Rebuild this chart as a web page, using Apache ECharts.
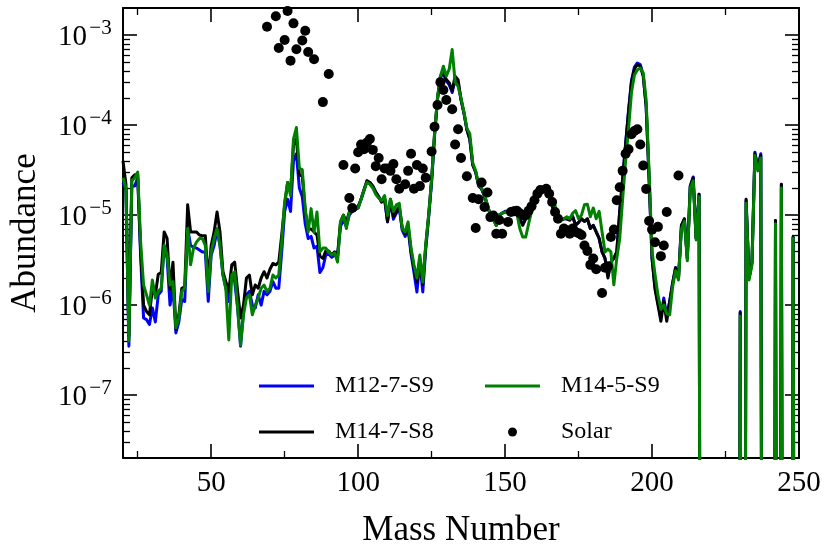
<!DOCTYPE html>
<html>
<head>
<meta charset="utf-8">
<script src="https://cdn.jsdelivr.net/npm/echarts@6/dist/echarts.min.js"></script>
<style>
html,body{margin:0;padding:0;background:#fff;}
#chart{width:831px;height:553px;}
</style>
</head>
<body>
<div id="chart"></div>
<script>
// value used where the abundance drops below the plotted range (clipped off the bottom)
const Z = 1e-20;

const massNumbers = [
  20,21,22,23,24,25,26,27,28,29, 30,31,32,33,34,35,36,37,38,39,
  40,41,42,43,44,45,46,47,48,49, 50,51,52,53,54,55,56,57,58,59,
  60,61,62,63,64,65,66,67,68,69, 70,71,72,73,74,75,76,77,78,79,
  80,81,82,83,84,85,86,87,88,89, 90,91,92,93,94,95,96,97,98,99,
  100,101,102,103,104,105,106,107,108,109, 110,111,112,113,114,115,116,117,118,119,
  120,121,122,123,124,125,126,127,128,129, 130,131,132,133,134,135,136,137,138,139,
  140,141,142,143,144,145,146,147,148,149, 150,151,152,153,154,155,156,157,158,159,
  160,161,162,163,164,165,166,167,168,169, 170,171,172,173,174,175,176,177,178,179,
  180,181,182,183,184,185,186,187,188,189, 190,191,192,193,194,195,196,197,198,199,
  200,201,202,203,204,205,206,207,208,209, 210,211,212,213,214,215,216,217,218,219,
  220,221,222,223,224,225,226,227,228,229, 230,231,232,233,234,235,236,237,238,239,
  240,241,242,243,244,245,246,247,248,249, 250
];

const m12_7_S9 = [
  2.3e-5,1.9e-5,3.5e-7,2.1e-5,2.1e-5,2.6e-5,3.5e-6,7.2e-7,6.9e-7,6.1e-7,
  9.3e-7,6.5e-7,1.3e-6,1.42e-6,4.6e-6,3.3e-6,1.0e-6,1.6e-6,4.9e-7,6.5e-7,
  1.15e-6,1.1e-6,7.1e-6,4.6e-6,4.4e-6,4.3e-6,4.1e-6,3.9e-6,3.9e-6,1.1e-6,
  3.6e-6,4.6e-6,6.8e-6,4.6e-6,2.16e-6,1.54e-6,1.1e-6,2.16e-6,1.82e-6,9.3e-7,
  3.5e-7,8.5e-7,1.3e-6,1.42e-6,1.0e-6,9.3e-7,1.3e-6,1.0e-6,1.42e-6,1.3e-6,
  1.42e-6,1.82e-6,1.54e-6,1.54e-6,3.9e-6,1.1e-5,1.5e-5,1.1e-5,4.0e-5,4.8e-5,
  2.0e-5,1.6e-5,8.0e-6,5.5e-6,5.8e-6,4.3e-6,4.5e-6,2.3e-6,2.6e-6,3.6e-6,
  3.7e-6,3.4e-6,3.6e-6,3.5e-6,7.5e-6,8.8e-6,7.5e-6,1.0e-5,1.1e-5,1.15e-5,
  1.2e-5,1.5e-5,1.9e-5,2.4e-5,2.3e-5,2.1e-5,1.8e-5,1.6e-5,1.4e-5,1.5e-5,
  8.4e-6,1.45e-5,9.0e-6,1.05e-5,1.2e-5,6.8e-6,5.8e-6,7.0e-6,3.7e-6,2.3e-6,
  1.4e-6,3.0e-6,1.4e-6,4.2e-6,9.5e-6,2.3e-5,7.5e-5,1.9e-4,3.4e-4,3.8e-4,
  3.1e-4,2.8e-4,2.3e-4,3.2e-4,3.0e-4,1.9e-4,1.35e-4,8.8e-5,6.9e-5,3.6e-5,
  3.0e-5,2.1e-5,1.96e-5,1.6e-5,1.28e-5,1.0e-5,9.1e-6,7.7e-6,1.0e-5,1.05e-5,
  1.1e-5,1.1e-5,1.15e-5,1.2e-5,1.15e-5,9.1e-6,7.9e-6,9.1e-6,1.0e-5,1.2e-5,
  1.4e-5,1.65e-5,1.85e-5,2.0e-5,1.96e-5,1.65e-5,1.28e-5,1.0e-5,1.0e-5,8.8e-6,
  9.1e-6,9.1e-6,8.8e-6,9.6e-6,7.7e-6,8.3e-6,9.1e-6,8.5e-6,9.1e-6,7.1e-6,
  7.7e-6,6.5e-6,5.5e-6,3.9e-6,3.3e-6,2.1e-6,3.0e-6,3.3e-6,3.9e-6,1.1e-5,
  2.6e-5,6.2e-5,1.45e-4,3.1e-4,4.4e-4,4.9e-4,4.7e-4,3.6e-4,1.6e-4,2.5e-5,
  3.3e-6,1.6e-6,1.05e-6,7.5e-7,1.2e-6,7.5e-7,1.1e-6,1.75e-6,2.6e-6,2.0e-6,
  7.7e-6,9.1e-6,3.3e-6,2.1e-5,2.65e-5,5.5e-6,1.7e-5,Z,Z,Z,
  Z,Z,Z,Z,Z,Z,Z,Z,Z,Z,
  8.5e-7,Z,1.45e-5,2.0e-6,3.0e-6,5.0e-5,3.4e-5,4.8e-5,Z,Z,
  Z,Z,8.7e-6,Z,2.2e-5,Z,Z,Z,5.7e-6,Z,
  Z
];

const m14_7_S8 = [
  4.0e-5,2.2e-5,4.5e-7,2.6e-5,2.8e-5,2.8e-5,4.0e-6,1.0e-6,8.5e-7,7.8e-7,
  1.54e-6,1.3e-6,2.2e-6,2.3e-6,6.5e-6,5.5e-6,1.5e-6,3.0e-6,5.4e-7,7.8e-7,
  1.54e-6,1.6e-6,1.3e-5,6.5e-6,6.5e-6,6.5e-6,6.0e-6,5.9e-6,5.9e-6,1.82e-6,
  4.6e-6,6.5e-6,1.08e-5,6.5e-6,2.35e-6,1.82e-6,1.42e-6,2.8e-6,3.0e-6,1.42e-6,
  7.2e-7,1.0e-6,2.0e-6,2.16e-6,1.3e-6,1.67e-6,1.54e-6,2.0e-6,2.35e-6,2.0e-6,
  2.5e-6,2.9e-6,2.8e-6,3.0e-6,6.0e-6,1.3e-5,2.3e-5,1.8e-5,6.0e-5,7.0e-5,
  2.8e-5,2.7e-5,1.1e-5,7.0e-6,7.0e-6,6.5e-6,6.0e-6,3.5e-6,3.3e-6,4.0e-6,
  4.0e-6,3.6e-6,3.9e-6,3.6e-6,8.4e-6,1.0e-5,8.4e-6,1.08e-5,1.15e-5,1.2e-5,
  1.25e-5,1.5e-5,1.9e-5,2.4e-5,2.3e-5,2.1e-5,1.8e-5,1.6e-5,1.4e-5,1.55e-5,
  8.5e-6,1.5e-5,9.5e-6,1.1e-5,1.25e-5,7.2e-6,6.2e-6,7.5e-6,4.0e-6,2.6e-6,
  1.8e-6,3.3e-6,1.7e-6,4.5e-6,1.0e-5,2.5e-5,8.0e-5,2.0e-4,3.5e-4,3.8e-4,
  3.2e-4,2.95e-4,2.4e-4,3.5e-4,3.2e-4,1.93e-4,1.38e-4,9.0e-5,7.0e-5,3.6e-5,
  3.0e-5,2.15e-5,1.96e-5,1.65e-5,1.28e-5,1.0e-5,9.1e-6,7.7e-6,1.0e-5,1.05e-5,
  1.08e-5,1.08e-5,1.12e-5,1.18e-5,1.08e-5,9.1e-6,7.7e-6,9.1e-6,1.0e-5,1.2e-5,
  1.4e-5,1.65e-5,1.85e-5,2.0e-5,1.96e-5,1.65e-5,1.28e-5,1.0e-5,1.0e-5,8.8e-6,
  9.1e-6,9.1e-6,8.8e-6,9.6e-6,7.7e-6,8.3e-6,9.1e-6,8.5e-6,9.1e-6,7.1e-6,
  7.7e-6,6.5e-6,5.5e-6,3.9e-6,3.3e-6,2.0e-6,3.0e-6,3.3e-6,3.9e-6,1.1e-5,
  2.5e-5,6.0e-5,1.4e-4,3.0e-4,4.2e-4,4.7e-4,4.5e-4,3.5e-4,1.6e-4,2.5e-5,
  3.3e-6,1.5e-6,1.0e-6,6.6e-7,1.1e-6,6.6e-7,1.1e-6,1.75e-6,2.6e-6,2.0e-6,
  7.7e-6,9.1e-6,3.3e-6,2.1e-5,2.6e-5,5.5e-6,1.7e-5,Z,Z,Z,
  Z,Z,Z,Z,Z,Z,Z,Z,Z,Z,
  8.2e-7,Z,1.5e-5,2.0e-6,3.0e-6,4.8e-5,3.3e-5,4.6e-5,Z,Z,
  Z,Z,8.7e-6,Z,2.2e-5,Z,Z,Z,5.7e-6,Z,
  Z
];

const m14_5_S9 = [
  2.6e-5,2.0e-5,4.0e-7,2.4e-5,2.6e-5,3.0e-5,5.0e-6,1.67e-6,1.3e-6,1.0e-6,
  1.9e-6,1.2e-6,1.42e-6,1.54e-6,4.6e-6,3.6e-6,1.67e-6,1.82e-6,5.6e-7,7.2e-7,
  1.42e-6,1.54e-6,7.1e-6,2.8e-6,4.3e-6,5.0e-6,5.5e-6,5.5e-6,4.6e-6,1.42e-6,
  3.9e-6,5.5e-6,7.1e-6,4.6e-6,2.16e-6,1.5e-6,4.1e-7,2.16e-6,2.35e-6,9.3e-7,
  3.6e-7,7.8e-7,1.2e-6,1.3e-6,7.8e-7,1.0e-6,1.2e-6,1.54e-6,1.67e-6,1.42e-6,
  1.54e-6,2.16e-6,2.0e-6,2.16e-6,5.0e-6,1.4e-5,2.3e-5,1.65e-5,7.0e-5,9.4e-5,
  3.3e-5,3.2e-5,1.18e-5,6.5e-6,1.18e-5,6.5e-6,1.08e-5,3.9e-6,4.3e-6,4.3e-6,
  3.9e-6,3.6e-6,3.8e-6,3.0e-6,8.4e-6,9.9e-6,7.1e-6,1.08e-5,1.15e-5,1.18e-5,
  1.2e-5,1.5e-5,1.9e-5,2.3e-5,2.2e-5,2.0e-5,1.7e-5,1.55e-5,1.45e-5,1.65e-5,
  9.9e-6,1.5e-5,1.1e-5,1.3e-5,1.35e-5,7.1e-6,6.5e-6,8.4e-6,4.3e-6,2.8e-6,
  2.0e-6,3.6e-6,1.8e-6,4.7e-6,1.0e-5,2.5e-5,8.0e-5,2.0e-4,3.5e-4,4.5e-4,
  3.5e-4,4.2e-4,6.9e-4,3.0e-4,2.7e-4,2.0e-4,1.4e-4,9.2e-5,8.0e-5,3.8e-5,
  3.1e-5,2.2e-5,2.0e-5,1.7e-5,1.3e-5,1.0e-5,9.1e-6,7.7e-6,1.0e-5,1.05e-5,
  1.08e-5,1.08e-5,1.12e-5,1.15e-5,1.05e-5,7.1e-6,5.7e-6,5.7e-6,8.0e-6,1.1e-5,
  1.4e-5,1.65e-5,1.85e-5,2.0e-5,1.96e-5,1.65e-5,1.28e-5,1.28e-5,9.0e-6,8.8e-6,
  9.1e-6,9.6e-6,9.1e-6,1.05e-5,1.12e-5,9.1e-6,1.0e-5,1.3e-5,1.32e-5,9.6e-6,
  1.2e-5,9.1e-6,1.1e-5,6.5e-6,3.9e-6,4.2e-6,3.9e-6,1.68e-6,3.3e-6,5.5e-6,
  1.5e-5,4.0e-5,9.0e-5,2.3e-4,3.6e-4,4.1e-4,4.3e-4,3.8e-4,1.9e-4,3.0e-5,
  4.0e-6,2.2e-6,1.3e-6,9.0e-7,1.0e-6,8.0e-7,7.8e-7,1.6e-6,2.4e-6,1.9e-6,
  7.0e-6,8.5e-6,3.1e-6,2.0e-5,2.4e-5,5.3e-6,1.6e-5,Z,Z,Z,
  Z,Z,Z,Z,Z,Z,Z,Z,Z,Z,
  7.5e-7,Z,1.35e-5,1.9e-6,2.8e-6,4.6e-5,3.1e-5,4.3e-5,Z,Z,
  Z,Z,8.0e-6,Z,2.0e-5,Z,Z,Z,5.5e-6,Z,
  Z
];

const solarMass = [
  69,72,73,75,76,77,78,79,81,82,83,85,88,90,
  95,97,98,99,100,101,102,103,104,105,106,107,108,109,110,111,112,113,114,116,117,118,119,120,121,122,123,
  125,126,127,128,129,130,132,133,134,135,137,139,140,141,142,143,144,145,146,147,148,149,
  151,152,153,154,155,156,157,158,159,160,161,162,164,165,166,167,168,169,170,171,172,173,174,175,176,177,178,179,180,181,
  183,184,185,186,187,188,189,190,191,192,193,194,195,196,197,198,199,200,201,202,203,204,205,209
];
const solarAbund = [
  1.24e-3,1.62e-3,7.2e-4,8.8e-4,1.85e-3,5.2e-4,1.35e-3,6.95e-4,8.7e-4,1.12e-3,6.5e-4,5.4e-4,1.8e-4,3.7e-4,
  3.6e-5,1.55e-5,1.2e-5,3.3e-5,5.0e-5,6.1e-5,5.4e-5,6.4e-5,7.0e-5,5.3e-5,3.5e-5,4.3e-5,2.5e-5,3.3e-5,3.3e-5,3.1e-5,3.7e-5,2.5e-5,1.96e-5,2.2e-5,3.1e-5,4.8e-5,1.96e-5,3.6e-5,2.1e-5,3.3e-5,2.6e-5,
  5.1e-5,9.6e-5,1.67e-4,3.0e-4,2.45e-4,1.9e-4,1.5e-4,6.1e-5,9.0e-5,4.3e-5,2.7e-5,1.55e-5,7.2e-6,1.5e-5,2.3e-5,1.23e-5,1.78e-5,9.5e-6,9.9e-6,6.2e-6,8.8e-6,6.2e-6,
  8.4e-6,1.08e-5,1.1e-5,1.12e-5,1.05e-5,1.0e-5,1.0e-5,1.12e-5,1.25e-5,1.46e-5,1.73e-5,1.9e-5,1.96e-5,1.73e-5,1.4e-5,1.08e-5,9.1e-6,6.2e-6,7.1e-6,6.8e-6,6.2e-6,7.1e-6,6.5e-6,6.3e-6,6.0e-6,4.6e-6,4.0e-6,2.8e-6,3.3e-6,2.5e-6,
  1.36e-6,2.6e-6,2.7e-6,5.7e-6,6.9e-6,1.46e-5,2.04e-5,3.1e-5,4.8e-5,5.4e-5,7.9e-5,8.6e-5,9.0e-5,6.1e-5,3.55e-5,1.95e-5,8.6e-6,6.9e-6,5.0e-6,7.4e-6,3.5e-6,4.6e-6,1.08e-5,2.75e-5
];

const xMajorTicks = [50, 100, 150, 200, 250];
const xMinorTicks = [25, 75, 125, 175, 225];
const yMajorTicks = [1e-7, 1e-6, 1e-5, 1e-4, 1e-3];
const yMinorTicks = [
  3e-8,4e-8,5e-8,6e-8,7e-8,8e-8,9e-8,
  2e-7,3e-7,4e-7,5e-7,6e-7,7e-7,8e-7,9e-7,
  2e-6,3e-6,4e-6,5e-6,6e-6,7e-6,8e-6,9e-6,
  2e-5,3e-5,4e-5,5e-5,6e-5,7e-5,8e-5,9e-5,
  2e-4,3e-4,4e-4,5e-4,6e-4,7e-4,8e-4,9e-4
];

const FONT = 'Liberation Serif';
const X_MIN = 20, X_MAX = 250, Y_MIN = 2e-8, Y_MAX = 2e-3;
const LINE_ICON = 'path://M0,0H55V3H0Z';

function pairs(xs, ys) { return xs.map((x, i) => [x, ys[i]]); }

function xAxisDef(pos, major, showLabel) {
  return {
    type: 'value', min: X_MIN, max: X_MAX, position: pos,
    axisLine: { show: major, onZero: false, lineStyle: { color: '#000', width: 2 } },
    axisTick: { show: true, inside: true, length: major ? 14 : 7,
      customValues: major ? xMajorTicks : xMinorTicks,
      lineStyle: { color: '#000', width: major ? 1.6 : 1.3 } },
    axisLabel: showLabel ? { show: true, customValues: xMajorTicks, fontFamily: FONT, fontSize: 29, color: '#000', margin: 11 } : { show: false },
    splitLine: { show: false }
  };
}
function yAxisDef(pos, major, showLabel) {
  return {
    type: 'log', logBase: 10, min: Y_MIN, max: Y_MAX, position: pos,
    axisLine: { show: major, onZero: false, lineStyle: { color: '#000', width: 2 } },
    axisTick: { show: true, inside: true, length: major ? 14 : 7,
      customValues: major ? yMajorTicks : yMinorTicks,
      lineStyle: { color: '#000', width: major ? 1.6 : 1.3 } },
    axisLabel: showLabel ? {
      show: true, customValues: yMajorTicks, margin: 9,
      formatter: function (v) {
        const e = Math.round(Math.log10(v));
        return '{b|10}{s|\u2212' + Math.abs(e) + '}';
      },
      rich: {
        b: { fontFamily: FONT, fontSize: 29, color: '#000', lineHeight: 34, verticalAlign: 'bottom' },
        s: { fontFamily: FONT, fontSize: 21, color: '#000', lineHeight: 21, verticalAlign: 'top', width: 27, align: 'left' }
      }
    } : { show: false },
    splitLine: { show: false }
  };
}

const xAxes = [
  xAxisDef('bottom', true, true),
  xAxisDef('bottom', false, false),
  xAxisDef('top', true, false),
  xAxisDef('top', false, false)
];
Object.assign(xAxes[0], { name: 'Mass Number', nameLocation: 'middle', nameGap: 55,
  nameTextStyle: { fontFamily: FONT, fontSize: 35, color: '#000' } });

const yAxes = [
  yAxisDef('left', true, true),
  yAxisDef('left', false, false),
  yAxisDef('right', true, false),
  yAxisDef('right', false, false)
];
Object.assign(yAxes[0], { name: 'Abundance', nameLocation: 'middle', nameGap: 80,
  nameTextStyle: { fontFamily: FONT, fontSize: 35, color: '#000' } });

const legendText = { fontFamily: FONT, fontSize: 24, color: '#000', lineHeight: 24, padding: [0, 0, 0, 16] };

const chart = echarts.init(document.getElementById('chart'), null, { renderer: 'canvas' });
chart.setOption({
  animation: false,
  backgroundColor: '#fff',
  grid: { left: 121, right: 32, top: 8, bottom: 92, containLabel: false },
  xAxis: xAxes,
  yAxis: yAxes,
  legend: [
    { data: [{ name: 'M12-7-S9', icon: LINE_ICON }, { name: 'M14-7-S8', icon: LINE_ICON }],
      orient: 'vertical', left: 259, top: 374, padding: 0,
      itemWidth: 55, itemHeight: 14, itemGap: 22, selectedMode: false, textStyle: legendText },
    { data: [{ name: 'M14-5-S9', icon: LINE_ICON }, { name: 'Solar', icon: 'circle' }],
      orient: 'vertical', left: 485, top: 374, padding: 0,
      itemWidth: 55, itemHeight: 9, itemGap: 22, selectedMode: false, textStyle: legendText }
  ],
  series: [
    { name: 'M12-7-S9', type: 'line', data: pairs(massNumbers, m12_7_S9), symbol: 'none', showSymbol: false,
      lineStyle: { color: '#0000ff', width: 3, join: 'round' }, itemStyle: { color: '#0000ff' }, z: 2 },
    { name: 'M14-7-S8', type: 'line', data: pairs(massNumbers, m14_7_S8), symbol: 'none', showSymbol: false,
      lineStyle: { color: '#000000', width: 3, join: 'round' }, itemStyle: { color: '#000000' }, z: 3 },
    { name: 'M14-5-S9', type: 'line', data: pairs(massNumbers, m14_5_S9), symbol: 'none', showSymbol: false,
      lineStyle: { color: '#008000', width: 3, join: 'round' }, itemStyle: { color: '#008000' }, z: 4 },
    { name: 'Solar', type: 'scatter', data: pairs(solarMass, solarAbund), symbol: 'circle', symbolSize: 10,
      itemStyle: { color: '#000000', opacity: 1 }, z: 5 }
  ]
});
</script>
</body>
</html>
